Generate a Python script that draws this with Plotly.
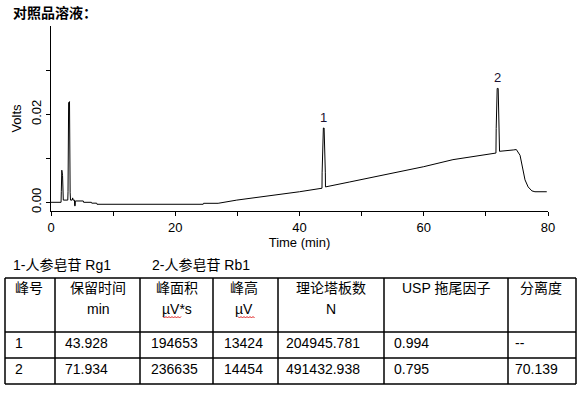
import plotly.graph_objects as go

# ---------------- chromatogram data ----------------
time_min = [0.0, 1.62, 1.66, 1.74, 1.86, 1.98, 2.70, 2.74, 2.84, 2.98, 3.08, 3.14,
            3.40, 3.49, 3.55, 3.78, 3.80, 3.90, 3.92, 5.20, 5.25, 6.50, 6.55, 7.35,
            7.40, 24.5, 24.55, 26.9, 29.9, 33.0, 36.9, 40.0, 43.62, 43.64, 43.84,
            43.96, 44.16, 44.18, 48.0, 52.0, 57.0, 60.0, 64.7, 68.0, 71.5, 71.62,
            71.66, 71.82, 71.98, 72.2, 74.4, 74.9, 75.5, 75.8, 76.0, 76.3, 76.8,
            77.4, 77.9, 79.8]
volts = [0.0, 0.0, 0.0024, 0.0073, 0.0061, 0.0005, 0.0005, 0.0024, 0.0227, 0.0229,
         0.0023, 0.0005, 0.0005, 0.0010, 0.0005, 0.0005, -0.0008, -0.0008, 0.0003,
         0.0003, 0.0, 0.0, -0.0002, -0.0002, -0.00045, -0.00045, -0.00023, -0.00023,
         0.0005, 0.0011, 0.0017, 0.0024, 0.0032, 0.0067, 0.0169, 0.0169, 0.0067,
         0.0035, 0.0046, 0.0058, 0.0073, 0.0081, 0.0097, 0.0104, 0.0111, 0.0112,
         0.0168, 0.0259, 0.0259, 0.0116, 0.0119, 0.0120, 0.0107, 0.0085, 0.0066,
         0.0051, 0.0035, 0.0026, 0.0024, 0.0024]

peak_labels = ["1", "2"]
peak_label_x = [43.90, 71.90]
peak_label_y = [0.0169, 0.0259]

x_tickvals = [0, 10, 20, 30, 40, 50, 60, 70, 80]
x_ticktext = ["0", "", "20", "", "40", "", "60", "", "80"]
y_tickvals = [0.0, 0.01, 0.02, 0.03]
y_ticktext = ["0.00", "", "0.02", ""]

title_text = "对照品溶液："
legend_items = ["1-人参皂苷 Rg1", "2-人参皂苷 Rb1"]

# ---------------- table data ----------------
header_top = ["峰号", "保留时间", "峰面积", "峰高", "理论塔板数", "USP 拖尾因子", "分离度"]
header_unit = ["", "min", "µV*s", "µV", "N", "", ""]
peak_no = ["1", "2"]
ret_time = ["43.928", "71.934"]
peak_area = ["194653", "236635"]
peak_height = ["13424", "14454"]
plates = ["204945.781", "491432.938"]
tailing = ["0.994", "0.795"]
resolution = ["--", "70.139"]

# ---------------- layout helpers (pixel -> paper) ----------------
W, H = 587, 393
L, R, T, B = 51, 548, 26, 211


def px(x):
    return (x - L) / (R - L)


def py(y):
    return (B - y) / (B - T)


LATIN = "Liberation Sans, Arial, Noto Sans CJK SC"
CJK = "Liberation Sans, Noto Sans CJK SC"

fig = go.Figure()
fig.add_trace(go.Scatter(x=time_min, y=volts, mode="lines",
                         line=dict(color="black", width=1), hoverinfo="skip",
                         showlegend=False))

annotations = []
shapes = []

# peak labels
for t, xv, yv in zip(peak_labels, peak_label_x, peak_label_y):
    annotations.append(dict(x=xv, y=yv, xref="x", yref="y", text=t, showarrow=False,
                            xanchor="center", yanchor="bottom", yshift=1,
                            font=dict(family=LATIN, size=13, color="#1a1030")))

# title
annotations.append(dict(x=px(11), y=py(12), xref="paper", yref="paper", text="<b>" + title_text + "</b>",
                        showarrow=False, xanchor="left", yanchor="middle",
                        font=dict(family="Noto Sans CJK SC", size=14, color="black")))

# legend line under chart
for txt, lx in zip(legend_items, [11, 150]):
    annotations.append(dict(x=px(lx), y=py(265), xref="paper", yref="paper", text=txt,
                            showarrow=False, xanchor="left", yanchor="middle",
                            font=dict(family=CJK, size=14, color="black")))

# table grid
col_edges = [5, 55, 140, 213, 278, 384, 508, 576]
row_edges = [278, 332, 358, 384]
for xe in col_edges:
    shapes.append(dict(type="line", xref="paper", yref="paper",
                       x0=px(xe), x1=px(xe), y0=py(row_edges[0]), y1=py(row_edges[-1]),
                       line=dict(color="black", width=1.5)))
for ye in row_edges:
    shapes.append(dict(type="line", xref="paper", yref="paper",
                       x0=px(col_edges[0]), x1=px(col_edges[-1]), y0=py(ye), y1=py(ye),
                       line=dict(color="black", width=1.5)))

# header text
head_cx = [29, 98, 176.5, 244, 330.5, 446, 541]
for i, (h1, h2) in enumerate(zip(header_top, header_unit)):
    annotations.append(dict(x=px(head_cx[i]), y=py(288), xref="paper", yref="paper", text=h1,
                            showarrow=False, xanchor="center", yanchor="middle",
                            font=dict(family=CJK, size=14, color="black")))
    if h2:
        annotations.append(dict(x=px(head_cx[i]), y=py(309), xref="paper", yref="paper", text=h2,
                                showarrow=False, xanchor="center", yanchor="middle",
                                font=dict(family=CJK, size=14, color="black")))

# spell-check squiggles under units
for x0s, x1s in [(163, 182), (238, 255)]:
    pts = []
    xx = x0s
    k = 0
    while xx <= x1s:
        yy = 317 + (1 if k % 2 else -0.5)
        pts.append((px(xx), py(yy)))
        xx += 1.5
        k += 1
    path = "M " + " L ".join(f"{a:.5f},{b:.5f}" for a, b in pts)
    shapes.append(dict(type="path", xref="paper", yref="paper", path=path,
                       line=dict(color="#e02020", width=1)))

# body text
cols = [peak_no, ret_time, peak_area, peak_height, plates, tailing, resolution]
pads = [8, 8, 9, 9, 6, 8, 5]
row_cy = [343, 369]
for c, col in enumerate(cols):
    for r, val in enumerate(col):
        annotations.append(dict(x=px(col_edges[c] + pads[c]), y=py(row_cy[r]), xref="paper", yref="paper",
                                text=val, showarrow=False, xanchor="left", yanchor="middle",
                                font=dict(family=CJK, size=14, color="black")))

fig.update_layout(
    width=W, height=H,
    margin=dict(l=L, r=W - R, t=T, b=H - B, pad=0),
    paper_bgcolor="white", plot_bgcolor="white",
    showlegend=False,
    annotations=annotations,
    shapes=shapes,
    font=dict(family=LATIN, size=13, color="black"),
)
fig.update_xaxes(range=[0, 80], tickvals=x_tickvals, ticktext=x_ticktext,
                 showline=True, linecolor="black", linewidth=1, ticks="outside",
                 ticklen=4, tickcolor="black", showgrid=False, zeroline=False,
                 automargin=False, tickfont=dict(family=LATIN, size=13, color="black"),
                 title=dict(text="Time (min)", font=dict(family=LATIN, size=13, color="black"), standoff=2))
fig.update_yaxes(range=[-0.00198, 0.0401], tickvals=y_tickvals, ticktext=y_ticktext,
                 tickangle=-90, showline=True, linecolor="black", linewidth=1,
                 ticks="outside", ticklen=4, tickcolor="black", showgrid=False,
                 zeroline=False, automargin=False,
                 tickfont=dict(family=LATIN, size=13, color="black"),
                 title=dict(text="Volts", font=dict(family=LATIN, size=13, color="black"), standoff=4))

fig.write_html("out.html", config={"displayModeBar": False},
               post_script="document.body.style.margin='0';document.body.style.padding='0';")
